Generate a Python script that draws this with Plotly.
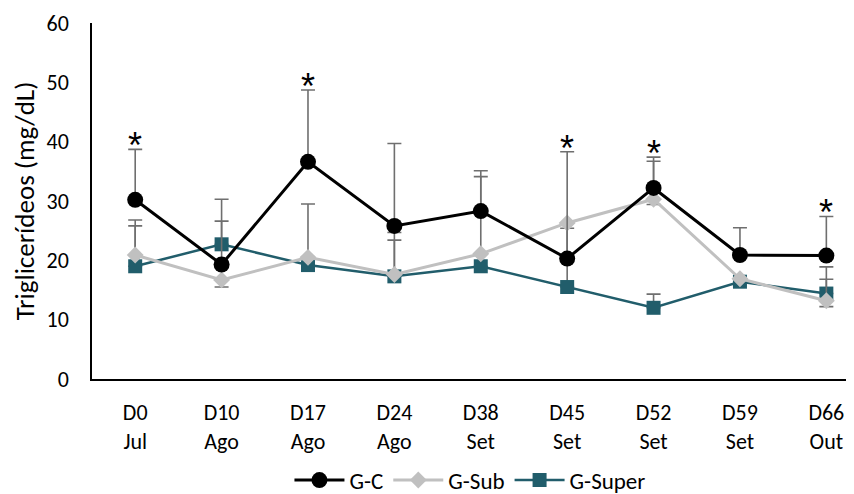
import plotly.graph_objects as go

categories = ["D0<br>Jul", "D10<br>Ago", "D17<br>Ago", "D24<br>Ago", "D38<br>Set",
              "D45<br>Set", "D52<br>Set", "D59<br>Set", "D66<br>Out"]

gc = [30.2, 19.3, 36.6, 25.8, 28.3, 20.3, 32.2, 20.9, 20.8]
gc_err = [8.5, 11.0, 12.1, 13.9, 6.8, 18.0, 5.2, 4.6, 6.6]

gsub = [20.9, 16.7, 20.5, 17.6, 21.1, 26.3, 30.3, 16.9, 13.2]
gsub_err_plus = [5.9, 0.0, 0.0, 7.1, 13.0, 0.0, 6.4, 0.0, 3.6]
gsub_err_minus = [0.0, 1.2, 0.0, 0.0, 0.0, 0.0, 0.9, 0.0, 1.0]

gsuper = [19.0, 22.7, 19.2, 17.3, 19.0, 15.5, 12.0, 16.4, 14.4]
gsuper_err = [6.8, 3.9, 10.3, 6.1, 0.0, 9.9, 2.3, 0.0, 4.5]

significant = [0, 2, 5, 6, 8]

FONT = "Carlito, Lato, sans-serif"
ERR_COLOR = "#6f6f6f"

fig = go.Figure()

fig.add_trace(go.Scatter(
    x=categories, y=gsuper, name="G-Super", mode="lines+markers",
    line=dict(color="#215d6b", width=2.5),
    marker=dict(symbol="square", size=14, color="#215d6b"),
    error_y=dict(type="data", array=gsuper_err, symmetric=False, arrayminus=[0]*9,
                 color=ERR_COLOR, thickness=1.6, width=7),
    legendrank=3,
))
fig.add_trace(go.Scatter(
    x=categories, y=gsub, name="G-Sub", mode="lines+markers",
    line=dict(color="#c0c0c0", width=3),
    marker=dict(symbol="diamond", size=13, color="#c0c0c0"),
    error_y=dict(type="data", array=gsub_err_plus, symmetric=False, arrayminus=gsub_err_minus,
                 color=ERR_COLOR, thickness=1.6, width=7),
    legendrank=2,
))
fig.add_trace(go.Scatter(
    x=categories, y=gc, name="G-C", mode="lines+markers",
    line=dict(color="#000000", width=3),
    marker=dict(symbol="circle", size=16, color="#000000"),
    error_y=dict(type="data", array=gc_err, symmetric=False, arrayminus=[0]*9,
                 color=ERR_COLOR, thickness=1.6, width=7),
    legendrank=1,
))

for i in significant:
    fig.add_annotation(x=categories[i], y=gc[i] + gc_err[i], text="*", showarrow=False,
                       yanchor="bottom", yshift=-19,
                       font=dict(family="Liberation Sans, Arial, sans-serif", size=36, color="#000000"))

fig.update_layout(
    width=846, height=486,
    margin=dict(l=84, r=0, t=15, b=115, autoexpand=False),
    paper_bgcolor="white", plot_bgcolor="white",
    font=dict(family=FONT, size=22, color="#000000"),
    showlegend=True,
    legend=dict(orientation="h", x=0.496, xanchor="center", y=-0.284, yanchor="middle",
                font=dict(family=FONT, size=23, color="#000000"),
                itemwidth=50, traceorder="normal"),
    xaxis=dict(range=[-0.5, 8.32], showline=True, linecolor="#000000", linewidth=1.5,
               showgrid=False, ticks="outside", ticklen=13, tickcolor="rgba(0,0,0,0)",
               tickfont=dict(family=FONT, size=22, color="#000000"), zeroline=False,
               automargin=False),
    yaxis=dict(range=[0, 60], dtick=10, showline=True, linecolor="#000000", linewidth=1.5,
               showgrid=False, ticks="outside", ticklen=17, tickcolor="rgba(0,0,0,0)",
               tickfont=dict(family=FONT, size=22, color="#000000"), zeroline=False,
               automargin=False,
               title=dict(text="Triglicerídeos (mg/dL)", standoff=6,
                          font=dict(family=FONT, size=27, color="#000000"))),
)

fig.write_html("out.html")
